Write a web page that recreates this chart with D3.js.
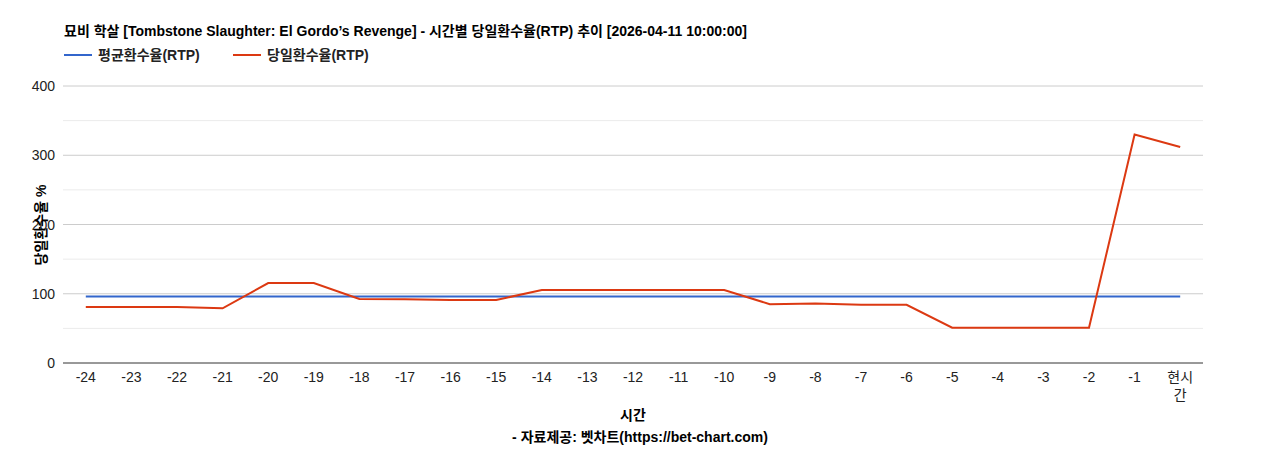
<!DOCTYPE html><html><head><meta charset="utf-8">
<script src="https://cdn.jsdelivr.net/npm/d3@7"></script>
<style>body{margin:0;background:#fff}</style></head><body>
<svg id="c" width="1268" height="450"></svg>
<script>
const categories=["-24","-23","-22","-21","-20","-19","-18","-17","-16","-15","-14","-13","-12","-11","-10","-9","-8","-7","-6","-5","-4","-3","-2","-1","현시간"];
const avgRtp=[96,96,96,96,96,96,96,96,96,96,96,96,96,96,96,96,96,96,96,96,96,96,96,96,96];
const dailyRtp=[81,81,81,79,115.5,115.5,92.5,92,91,91,105.5,105.5,105.5,105.5,105.5,85,86,84,84,51,51,51,51,330,312];
const yTicks=[0,100,200,300,400];
const svg=d3.select("#c");
const L=63,R=1203,T=86,B=363;
const x=d3.scaleBand().domain(categories).range([L,R]);
const y=d3.scaleLinear().domain([0,400]).range([B,T]);
const f="Arial,'Liberation Sans','Noto Sans CJK KR',sans-serif";
d3.range(50,400,100).forEach(v=>svg.append("line").attr("x1",L).attr("x2",R).attr("y1",y(v)).attr("y2",y(v)).attr("stroke","#ebebeb"));
yTicks.slice(1).forEach(v=>svg.append("line").attr("x1",L).attr("x2",R).attr("y1",y(v)).attr("y2",y(v)).attr("stroke","#ccc"));
svg.append("line").attr("x1",L).attr("x2",R).attr("y1",B).attr("y2",B).attr("stroke","#333");
yTicks.forEach(v=>svg.append("text").attr("x",L-8).attr("y",y(v)+5).attr("text-anchor","end").attr("font-size",14).attr("font-family",f).attr("fill","#222").text(v));
categories.forEach(c=>{const cx=x(c)+x.bandwidth()/2;
 if(c==="현시간"){const t=svg.append("text").attr("text-anchor","middle").attr("font-size",14).attr("font-family",f).attr("fill","#222");
  t.append("tspan").attr("x",cx).attr("y",382).text("현시");t.append("tspan").attr("x",cx).attr("y",400).text("간");}
 else svg.append("text").attr("x",cx).attr("y",382).attr("text-anchor","middle").attr("font-size",14).attr("font-family",f).attr("fill","#222").text(c);});
const line=d3.line().x((d,i)=>x(categories[i])+x.bandwidth()/2).y(d=>y(d));
svg.append("path").datum(avgRtp).attr("d",line).attr("fill","none").attr("stroke","#3366cc").attr("stroke-width",2);
svg.append("path").datum(dailyRtp).attr("d",line).attr("fill","none").attr("stroke","#dc3912").attr("stroke-width",2);
svg.append("text").attr("x",64).attr("y",36).attr("font-size",14).attr("font-weight","bold").attr("font-family",f).attr("fill","#000").text("묘비 학살 [Tombstone Slaughter: El Gordo’s Revenge] - 시간별 당일환수율(RTP) 추이 [2026-04-11 10:00:00]");
[["평균환수율(RTP)","#3366cc",64],["당일환수율(RTP)","#dc3912",233]].forEach(([t,c,lx])=>{
 svg.append("line").attr("x1",lx).attr("x2",lx+28).attr("y1",55).attr("y2",55).attr("stroke",c).attr("stroke-width",2);
 svg.append("text").attr("x",lx+34).attr("y",60).attr("font-size",14).attr("font-weight","bold").attr("font-family",f).attr("fill","#222").text(t);});
svg.append("text").attr("x",633).attr("y",420).attr("text-anchor","middle").attr("font-size",14).attr("font-weight","bold").attr("font-family",f).text("시간");
svg.append("text").attr("x",640).attr("y",442).attr("text-anchor","middle").attr("font-size",14).attr("font-weight","bold").attr("font-family",f).text("- 자료제공: 벳차트(https://bet-chart.com)");
svg.append("text").attr("transform","translate(46,225) rotate(-90)").attr("text-anchor","middle").attr("font-size",14).attr("font-weight","bold").attr("font-family",f).text("당일환수율 %");
</script></body></html>
